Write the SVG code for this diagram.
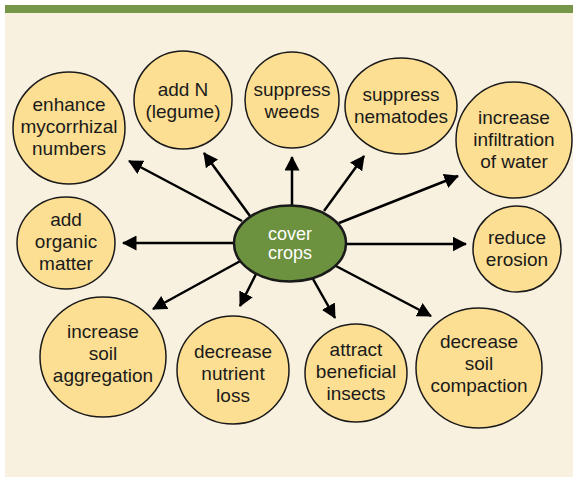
<svg xmlns="http://www.w3.org/2000/svg" width="573" height="478" viewBox="0 0 573 478">
<defs>
<style>
.n{fill:#FDDF93;stroke:#1a1a1a;stroke-width:1.5}
.c{fill:#6C913F;stroke:#1a1a1a;stroke-width:2.5}
text{font-family:"Liberation Sans",Arial,sans-serif;font-size:19px;fill:#1a1a1a;text-anchor:middle}
.w{fill:#ffffff;font-size:18px}
#edges line{stroke:#000;stroke-width:2.5;marker-end:url(#ah)}
</style>
<marker id="ah" markerWidth="6" markerHeight="6" refX="5.4" refY="3" orient="auto" markerUnits="strokeWidth">
<path d="M0,0 L5.8,3 L0,6 Z" fill="#000"/>
</marker>
</defs>
<rect x="0" y="0" width="573" height="478" fill="#ffffff"/>
<rect x="5" y="5" width="568" height="472" fill="#F9F1E0"/>
<rect x="5" y="5" width="568" height="8" fill="#76964A"/>
<g id="edges">
<line x1="242" y1="221" x2="129" y2="161"/>
<line x1="250" y1="216" x2="204" y2="153"/>
<line x1="292" y1="205" x2="292" y2="157"/>
<line x1="324" y1="211" x2="364" y2="156"/>
<line x1="339" y1="223" x2="458" y2="176"/>
<line x1="346" y1="244" x2="466" y2="244"/>
<line x1="234" y1="243" x2="123" y2="243"/>
<line x1="244" y1="259" x2="153" y2="309"/>
<line x1="256" y1="274" x2="240" y2="306"/>
<line x1="313" y1="279" x2="335" y2="318"/>
<line x1="334" y1="265" x2="431" y2="316"/>
</g>
<g id="n-myco"><circle class="n" cx="69" cy="128" r="56"/><text x="69" y="111">enhance</text><text x="69" y="133">mycorrhizal</text><text x="69" y="155">numbers</text></g>
<g id="n-addn"><ellipse class="n" cx="183" cy="100" rx="49" ry="49"/><text x="183" y="96">add N</text><text x="183" y="118">(legume)</text></g>
<g id="n-weeds"><ellipse class="n" cx="292" cy="100" rx="47" ry="48"/><text x="292" y="96">suppress</text><text x="292" y="118">weeds</text></g>
<g id="n-nema"><ellipse class="n" cx="401" cy="106" rx="56" ry="48"/><text x="401" y="101">suppress</text><text x="401" y="123">nematodes</text></g>
<g id="n-infil"><circle class="n" cx="514" cy="140" r="58"/><text x="514" y="124">increase</text><text x="514" y="146">infiltration</text><text x="514" y="168">of water</text></g>
<g id="n-erosion"><ellipse class="n" cx="517" cy="249" rx="44" ry="43"/><text x="517" y="244">reduce</text><text x="517" y="266">erosion</text></g>
<g id="n-organic"><ellipse class="n" cx="66" cy="243" rx="49" ry="46"/><text x="66" y="226">add</text><text x="66" y="248">organic</text><text x="66" y="270">matter</text></g>
<g id="n-aggr"><ellipse class="n" cx="103" cy="357" rx="63" ry="60"/><text x="103" y="338">increase</text><text x="103" y="360">soil</text><text x="103" y="382">aggregation</text></g>
<g id="n-nutr"><ellipse class="n" cx="233" cy="370" rx="56" ry="54"/><text x="233" y="358">decrease</text><text x="233" y="380">nutrient</text><text x="233" y="402">loss</text></g>
<g id="n-insects"><ellipse class="n" cx="356" cy="373" rx="51" ry="49"/><text x="356" y="356">attract</text><text x="356" y="378">beneficial</text><text x="356" y="400">insects</text></g>
<g id="n-compact"><ellipse class="n" cx="479" cy="368" rx="63" ry="60"/><text x="479" y="348">decrease</text><text x="479" y="370">soil</text><text x="479" y="392">compaction</text></g>
<g id="n-cover"><ellipse class="c" cx="290" cy="243.5" rx="56" ry="38"/><text class="w" x="290" y="240">cover</text><text class="w" x="290" y="259">crops</text></g>
</svg>
